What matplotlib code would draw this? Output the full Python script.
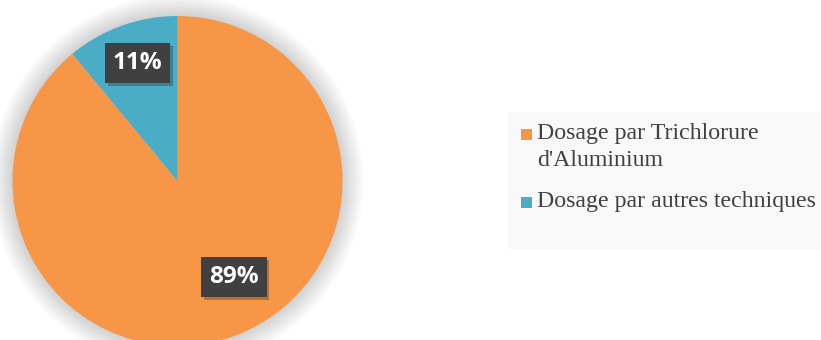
import matplotlib.pyplot as plt
import matplotlib.patheffects as pe
from matplotlib.patches import Circle, Rectangle
import numpy as np

categories = ["Dosage par Trichlorure\nd'Aluminium", "Dosage par autres techniques"]
values = [89, 11]
colors = ['#F79646', '#4BACC6']
label_pos = [(0.342, -0.582), (-0.24, 0.715)]

W, H = 821, 340
fig = plt.figure(figsize=(W / 100, H / 100), dpi=100)

# pie axes: centre (177.5, 159) px from bottom, radius 165 px
R = 165
cx, cy = 177.5, 159
ax = fig.add_axes([(cx - R) / W, (cy - R) / H, 2 * R / W, 2 * R / H])
ax.axis('off')

# soft shadow around the pie
for r in np.linspace(1.13, 1.0, 16):
    ax.add_patch(Circle((0, 0), r, color='#000000', alpha=0.011, lw=0, clip_on=False))

wedges, _ = ax.pie(values, colors=colors, startangle=90, counterclock=False,
                   radius=1, wedgeprops=dict(linewidth=0))
for w in wedges:
    w.set_clip_on(False)
ax.set_xlim(-1, 1)
ax.set_ylim(-1, 1)
ax.set_aspect('equal')

for v, (x, y) in zip(values, label_pos):
    t = ax.text(x, y, f"{v}%", ha='center', va='center', color='white',
                fontsize=17.5, fontweight='bold', family='Open Sans',
                bbox=dict(boxstyle='square,pad=0.32', facecolor='#404040', edgecolor='none'))
    t.get_bbox_patch().set_path_effects([
        pe.SimplePatchShadow(offset=(2, -2), shadow_rgbFace='#000000', alpha=0.25),
        pe.Normal()])

# legend panel
fig.patches.append(Rectangle((508 / W, 1 - 249 / H), (W - 508) / W, 137 / H,
                             transform=fig.transFigure, facecolor='#F8F8F8',
                             edgecolor='none', zorder=0))
legend_y = [134, 202]
for cat, col, y in zip(categories, colors, legend_y):
    fig.patches.append(Rectangle((521 / W, 1 - (y + 5.5) / H), 11 / W, 11 / H,
                                 transform=fig.transFigure, facecolor=col,
                                 edgecolor='none'))
    fig.text(537 / W, 1 - (y - 11) / H, cat, ha='left', va='top',
             family='Liberation Serif', fontsize=17.2, color='#404040',
             linespacing=1.4)

fig.savefig('out.png', dpi=100)
